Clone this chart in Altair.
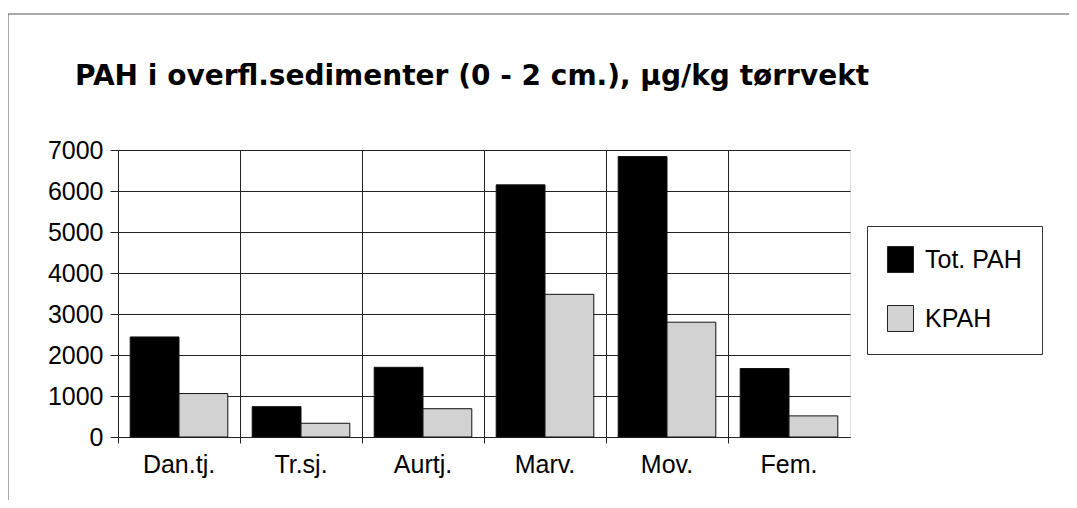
import altair as alt
import pandas as pd

categories = ["Dan.tj.", "Tr.sj.", "Aurtj.", "Marv.", "Mov.", "Fem."]
series = ["Tot. PAH", "KPAH"]
tot_pah = [2440, 740, 1700, 6150, 6840, 1670]
kpah = [1060, 335, 690, 3480, 2800, 515]
y_ticks = [0, 1000, 2000, 3000, 4000, 5000, 6000, 7000]
title_text = "PAH i overfl.sedimenter (0 - 2 cm.), µg/kg tørrvekt"

rows = []
for c, t, k in zip(categories, tot_pah, kpah):
    rows.append({"cat": c, "serie": series[0], "val": t})
    rows.append({"cat": c, "serie": series[1], "val": k})
df = pd.DataFrame(rows)
one = pd.DataFrame({"title": [title_text]})

FONT = "Liberation Sans"
FS = 25

xscale = alt.Scale(domain=categories, paddingInner=0, paddingOuter=0)
yscale = alt.Scale(domain=[0, 7000], nice=False)

grid_layer = alt.Chart(df).mark_bar(opacity=0).encode(
    x=alt.X("cat:N", scale=xscale, sort=categories, title=None,
            axis=alt.Axis(orient="bottom", bandPosition=0, grid=True, gridColor="#222",
                          gridWidth=1, ticks=True, tickSize=6, tickColor="#222",
                          labels=False, domain=False)),
    y=alt.Y("val:Q", scale=yscale),
)

bars = alt.Chart(df).mark_bar(stroke="#111", strokeWidth=1).encode(
    x=alt.X("cat:N", scale=xscale, sort=categories, title=None,
            axis=alt.Axis(orient="bottom", grid=False, ticks=False, domain=True,
                          domainColor="#222", labelAngle=0, labelFontSize=FS,
                          labelFont=FONT, labelColor="black", labelPadding=15)),
    xOffset=alt.XOffset("serie:N", sort=series,
                        scale=alt.Scale(domain=series, paddingInner=0, paddingOuter=0.25)),
    y=alt.Y("val:Q", scale=yscale, title=None,
            axis=alt.Axis(values=y_ticks, format="d", grid=True, gridColor="#222",
                          gridWidth=1, tickSize=8, tickColor="#222", domainColor="#222",
                          labelFontSize=FS, labelFont=FONT, labelColor="black",
                          labelPadding=7)),
    color=alt.Color("serie:N", sort=series,
                    scale=alt.Scale(domain=series, range=["#000000", "#d2d2d2"]),
                    legend=alt.Legend(title=None, orient="none", legendX=749, legendY=76,
                                      strokeColor="#333", padding=20, fillColor="white",
                                      symbolType="square", symbolSize=676,
                                      symbolStrokeColor="#222", symbolStrokeWidth=1,
                                      labelFontSize=FS, labelFont=FONT, labelColor="black",
                                      rowPadding=28, labelOffset=11)),
)

frame_top = alt.Chart(one).mark_rule(color="#555", strokeWidth=1).encode(
    x=alt.value(-110), x2=alt.value(960), y=alt.value(-136))
frame_left = alt.Chart(one).mark_rule(color="#555", strokeWidth=1).encode(
    x=alt.value(-110), y=alt.value(-136), y2=alt.value(360))

title = alt.Chart(one).mark_text(
    font="DejaVu Sans", fontSize=28, fontWeight="bold", color="black",
    align="left", baseline="alphabetic"
).encode(text="title:N", x=alt.value(-43), y=alt.value(-65))

chart = alt.layer(grid_layer, bars, frame_top, frame_left, title).resolve_axis(
    x="independent"
).properties(
    width=732, height=287,
    autosize=alt.AutoSizeParams(type="none"),
    padding={"left": 110, "top": 142, "right": 219, "bottom": 63},
).configure_view(stroke="#222", strokeWidth=1).configure(background="white")

chart.save("out.html", embed_options={"renderer": "svg", "actions": False})
